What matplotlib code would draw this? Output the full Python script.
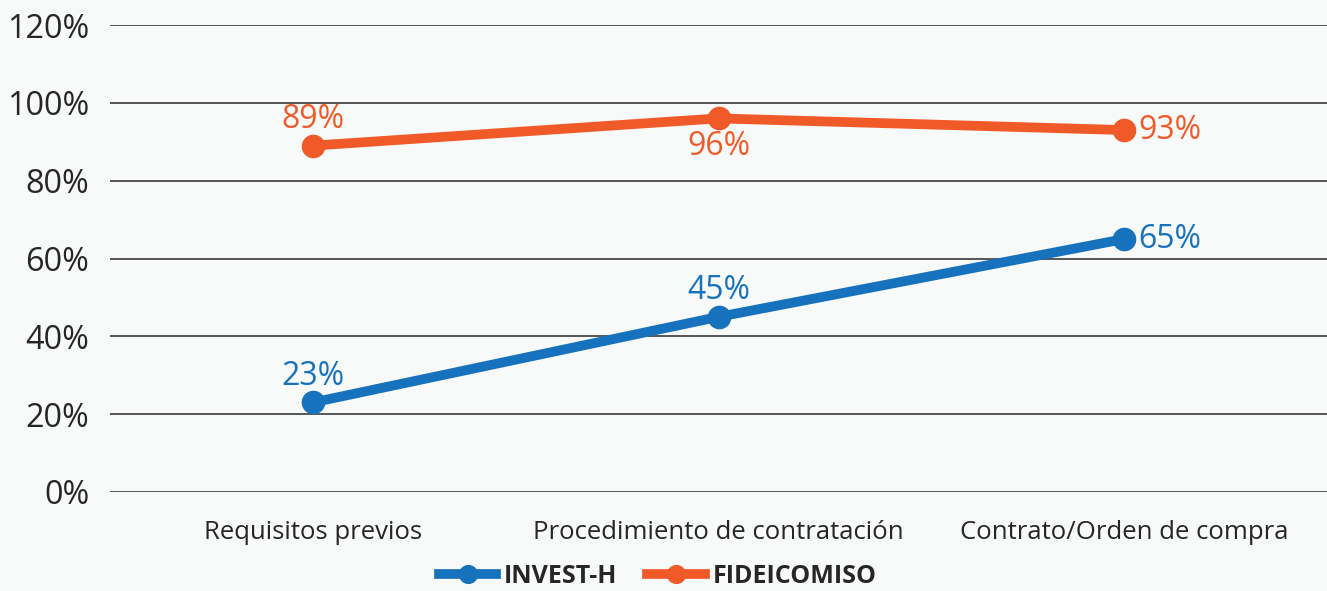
import matplotlib
matplotlib.use("Agg")
import matplotlib.pyplot as plt
from matplotlib.ticker import PercentFormatter

categories = ["Requisitos previos", "Procedimiento de contratación", "Contrato/Orden de compra"]
invest_h = [23, 45, 65]
fideicomiso = [89, 96, 93]
# label placement per point: (dx, dy) in points
invest_pos = [(0, 19), (0, 19), (10, 0)]
fide_pos = [(0, 19), (0, -20), (10, 0)]

BLUE, ORANGE, INK, BG = "#1672bd", "#f05a28", "#262626", "#f8f9f9"

plt.rcParams["font.family"] = ["Open Sans", "DejaVu Sans"]
fig = plt.figure(figsize=(13.27, 5.91), dpi=100)
fig.patch.set_facecolor(BG)
ax = fig.add_axes([110 / 1327, 1 - 492 / 591, 1 - 110 / 1327, (492 - 25) / 591])
ax.set_facecolor(BG)

x = range(len(categories))
ax.plot(x, invest_h, color=BLUE, lw=7, marker="o", ms=16, label="INVEST-H", zorder=3)
ax.plot(x, fideicomiso, color=ORANGE, lw=7, marker="o", ms=16, label="FIDEICOMISO", zorder=3)

for xi, v, (dx, dy) in zip(x, invest_h, invest_pos):
    ax.annotate(f"{v}%", (xi, v), xytext=(dx, dy), textcoords="offset points",
                ha="center" if dx == 0 else "left", va="center", fontsize=23, color=BLUE)
for xi, v, (dx, dy) in zip(x, fideicomiso, fide_pos):
    ax.annotate(f"{v}%", (xi, v), xytext=(dx, dy), textcoords="offset points",
                ha="center" if dx == 0 else "left", va="center", fontsize=23, color=ORANGE)

ax.set_xlim(-0.5, 2.5)
ax.set_ylim(0, 120)
ax.set_yticks(range(0, 121, 20))
ax.yaxis.set_major_formatter(PercentFormatter(decimals=0))
ax.set_xticks(list(x))
ax.set_xticklabels(categories)
ax.grid(axis="y", color="#3a3a3a", lw=1.2, zorder=1)
ax.set_axisbelow(True)
for s in ax.spines.values():
    s.set_visible(False)
ax.tick_params(axis="y", length=0, pad=15, labelsize=23.3, labelcolor=INK)
ax.tick_params(axis="x", length=0, pad=20, labelsize=18.5, labelcolor=INK)

leg = ax.legend(loc="center", bbox_to_anchor=(0.45, -0.18), ncol=2, frameon=False,
                prop={"size": 18, "weight": "bold"}, handlelength=2.3, columnspacing=1.2,
                handletextpad=0.3, markerscale=0.8)
for t in leg.get_texts():
    t.set_color(INK)

fig.savefig("out.png", dpi=100, facecolor=BG)
